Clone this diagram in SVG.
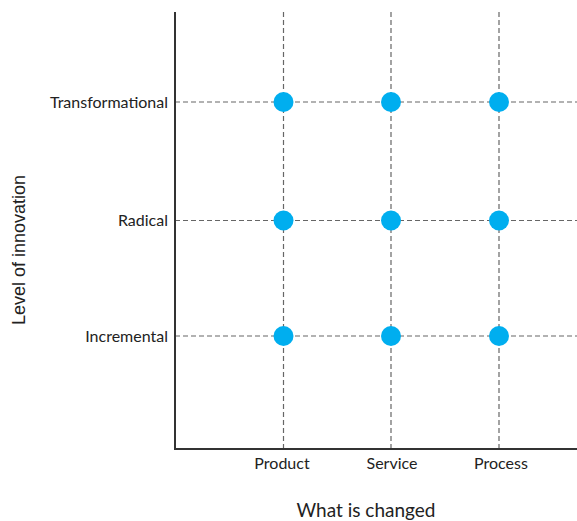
<svg xmlns="http://www.w3.org/2000/svg" width="577" height="521" viewBox="0 0 577 521">
<style>
.grid{stroke:#666;stroke-width:1.2;stroke-dasharray:5 3;fill:none}
.axis{stroke:#333;stroke-width:2;fill:none}
.dot{fill:#00AEEF}
.lbl{font-family:Lato,"Open Sans",sans-serif;font-size:16px;fill:#222}
.ttl{font-family:Lato,"Open Sans",sans-serif;font-size:19px;fill:#222}
.ttl2{font-family:"Liberation Sans",Arial,sans-serif;font-size:18px;fill:#222}
</style>
<rect width="577" height="521" fill="#fff"/>
<g id="connectors">
<line class="grid" x1="283.5" y1="12" x2="283.5" y2="449"/>
<line class="grid" x1="391" y1="12" x2="391" y2="449"/>
<line class="grid" x1="499" y1="12" x2="499" y2="449"/>
<line class="grid" x1="175" y1="102" x2="577" y2="102"/>
<line class="grid" x1="175" y1="220.5" x2="577" y2="220.5"/>
<line class="grid" x1="175" y1="336" x2="577" y2="336"/>
<polyline class="axis" points="175,12 175,449 577,449"/>
</g>
<g id="dots">
<circle class="dot" cx="283.5" cy="102" r="10"/>
<circle class="dot" cx="391" cy="102" r="10"/>
<circle class="dot" cx="499" cy="102" r="10"/>
<circle class="dot" cx="283.5" cy="220.5" r="10"/>
<circle class="dot" cx="391" cy="220.5" r="10"/>
<circle class="dot" cx="499" cy="220.5" r="10"/>
<circle class="dot" cx="283.5" cy="336" r="10"/>
<circle class="dot" cx="391" cy="336" r="10"/>
<circle class="dot" cx="499" cy="336" r="10"/>
</g>
<g id="y-labels">
<text class="lbl" x="168" y="107.5" text-anchor="end">Transformational</text>
<text class="lbl" x="168" y="226" text-anchor="end">Radical</text>
<text class="lbl" x="168" y="341.5" text-anchor="end">Incremental</text>
</g>
<g id="x-labels">
<text class="lbl" x="282" y="469" text-anchor="middle">Product</text>
<text class="lbl" x="392" y="469" text-anchor="middle">Service</text>
<text class="lbl" x="501" y="469" text-anchor="middle">Process</text>
</g>
<g id="axis-titles">
<text class="ttl" x="366" y="517" text-anchor="middle">What is changed</text>
<text class="ttl2" transform="translate(25,250) rotate(-90)" text-anchor="middle">Level of innovation</text>
</g>
</svg>
